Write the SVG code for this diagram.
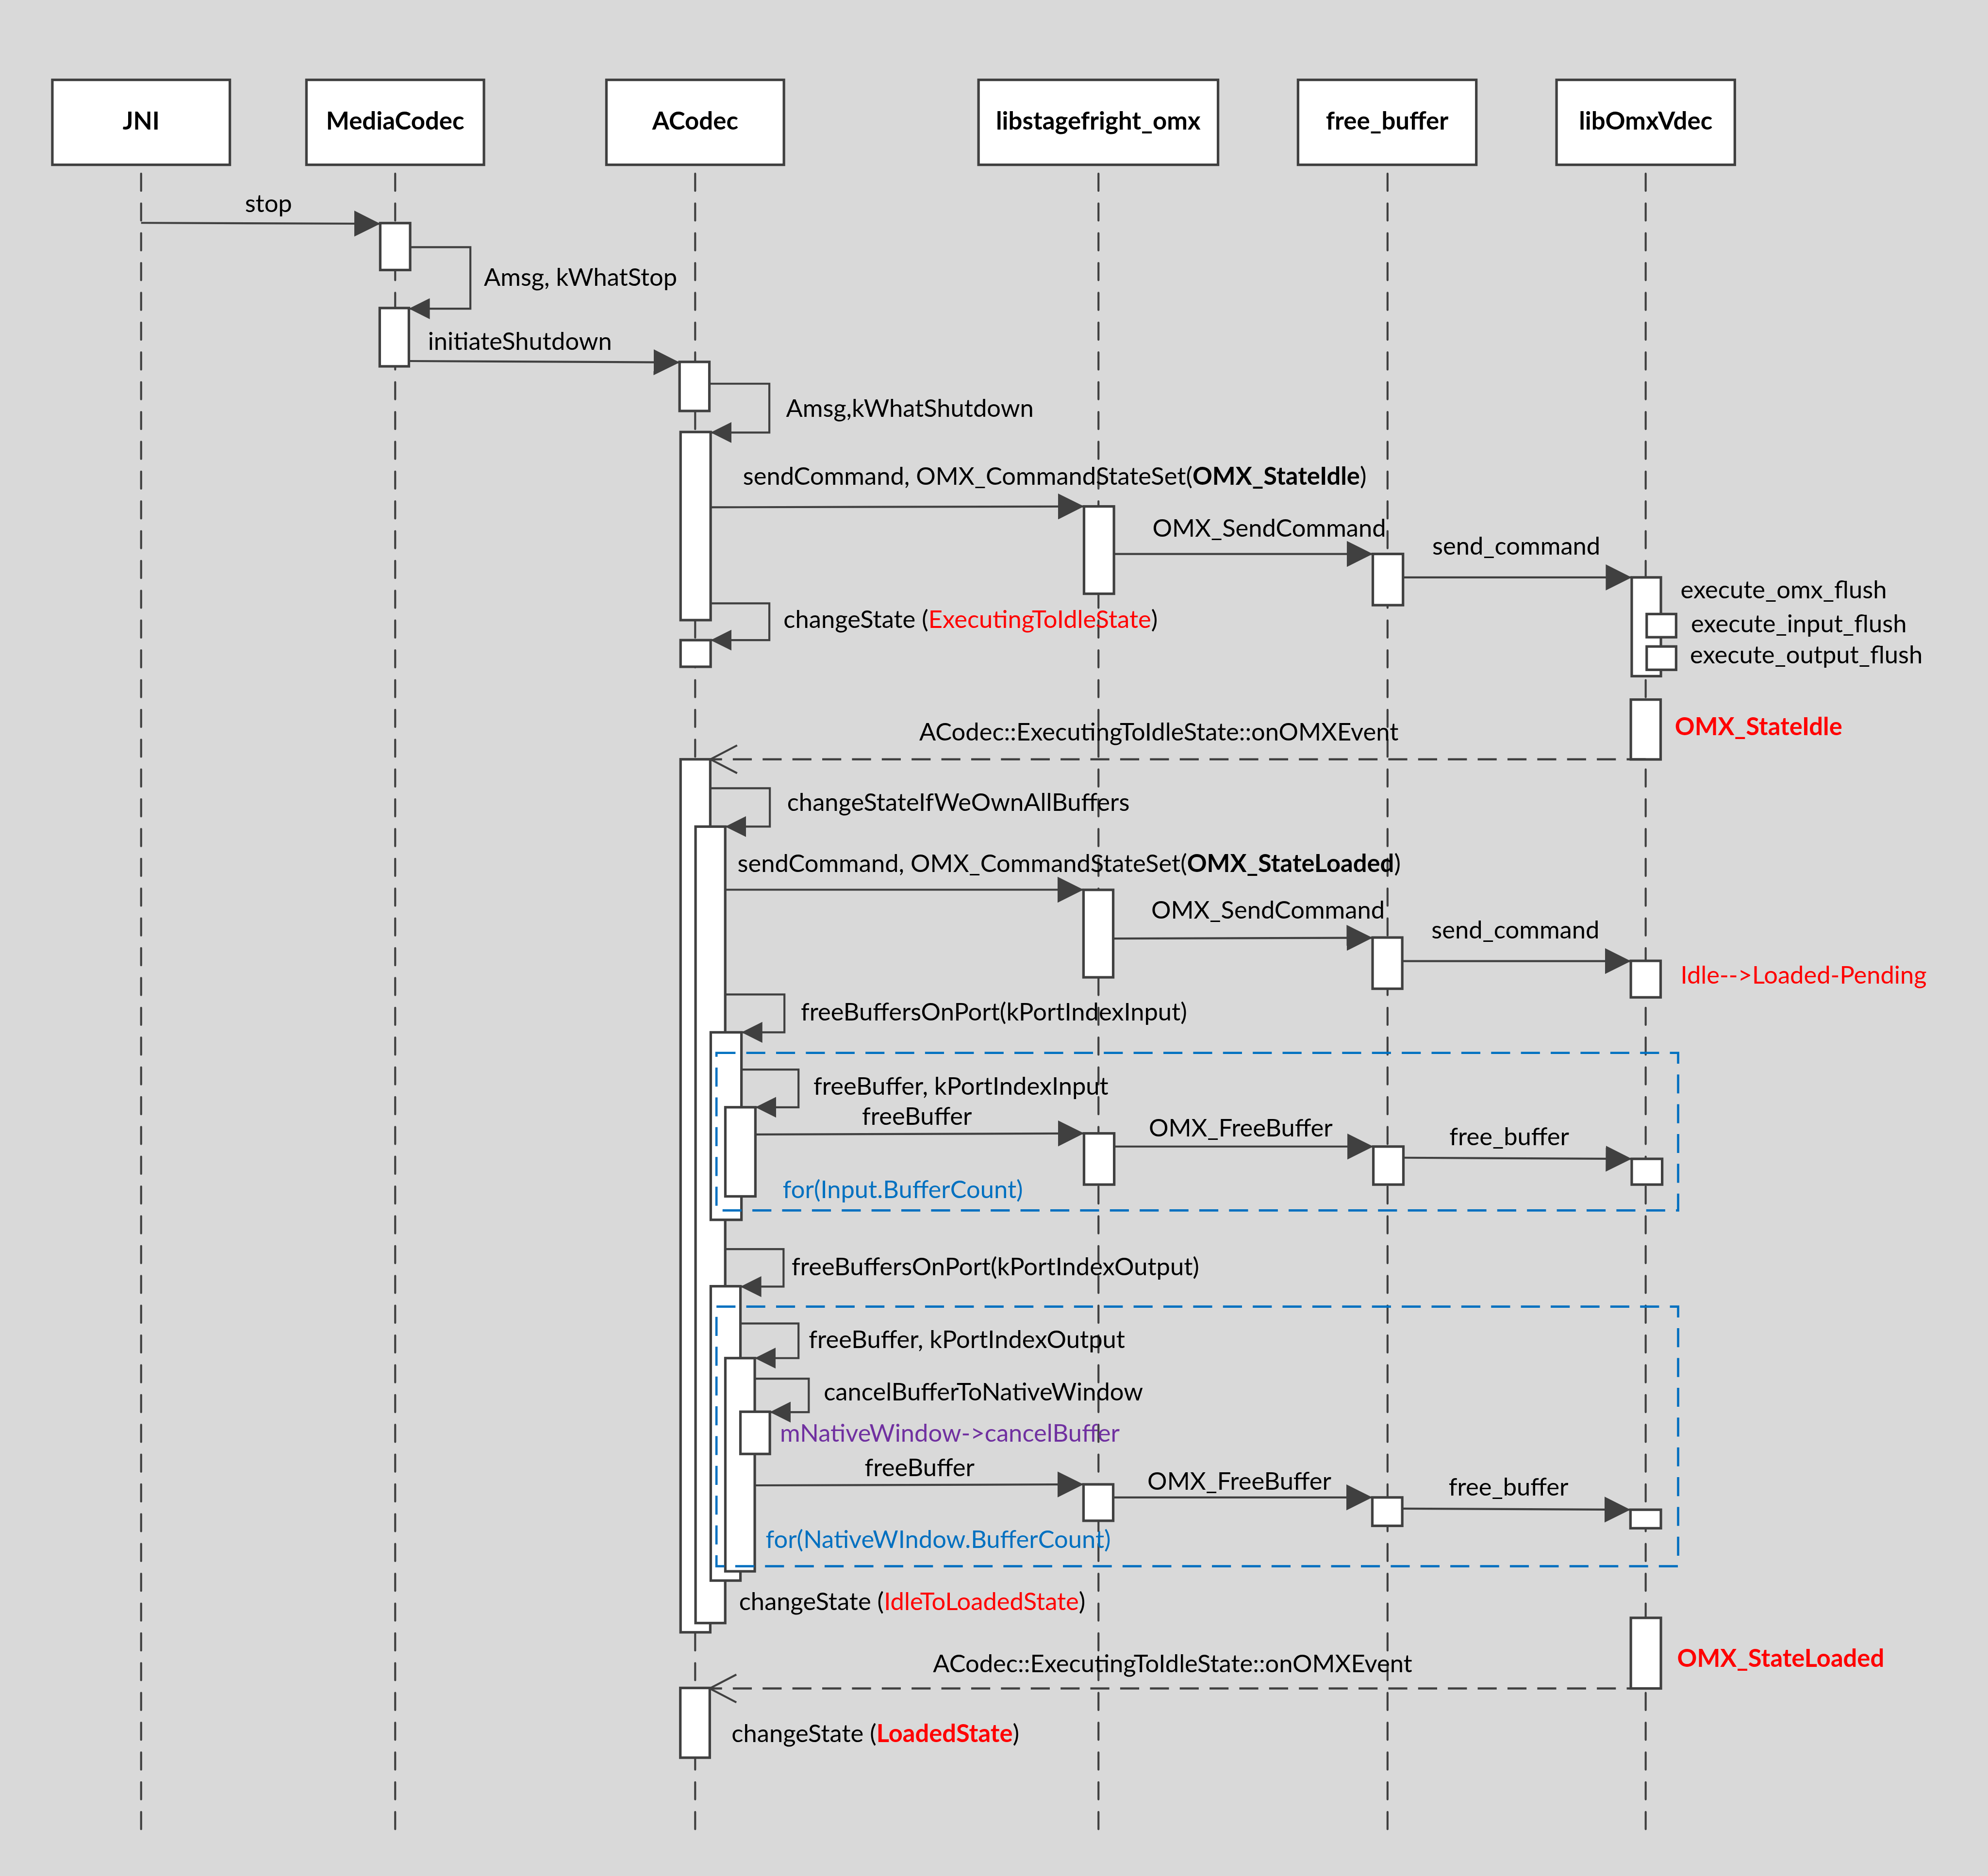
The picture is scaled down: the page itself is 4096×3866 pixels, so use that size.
<svg xmlns="http://www.w3.org/2000/svg" width="4096" height="3866" viewBox="0 0 4096 3866">
  <defs>
    <style>
      .hdr rect { fill: #ffffff; stroke: #404040; stroke-width: 2; }
      .hdr text { font-family: Lato, "Liberation Sans", sans-serif; font-weight: bold; font-size: 19.5px; text-anchor: middle; fill: #000; }
      .life { stroke: #404040; stroke-width: 1.6; stroke-dasharray: 13.5 10; stroke-linecap: round; fill: none; }
      .act { fill: #ffffff; stroke: #000000; stroke-width: 1.3; }
      .msg { fill: none; stroke: #404040; stroke-width: 1.6; marker-end: url(#arrow); }
      .self { fill: none; stroke: #404040; stroke-width: 1.6; marker-end: url(#arrow-s); }
      .ret { fill: none; stroke: #404040; stroke-width: 1.8; stroke-dasharray: 15 8.5; marker-end: url(#open); }
      .loop { fill: none; stroke: #0070C0; stroke-width: 1.8; stroke-dasharray: 15 8.5; }
      .lbl { font-family: Lato, "Liberation Sans", sans-serif; font-size: 19.4px; fill: #000; }
      .red { fill: #ff0000; }
      .b { font-weight: bold; }
      .blue { fill: #0070C0; }
      .purple { fill: #7030A0; }
    </style>
    <marker id="arrow" markerUnits="userSpaceOnUse" viewBox="0 0 20.5 20.5" markerWidth="20.5" markerHeight="20.5" refX="20.5" refY="10.25" orient="auto">
      <path d="M0,0 L20.5,10.25 L0,20.5 Z" fill="#404040"/>
    </marker>
    <marker id="arrow-s" markerUnits="userSpaceOnUse" viewBox="0 0 16.5 16.5" markerWidth="16.5" markerHeight="16.5" refX="16.5" refY="8.25" orient="auto">
      <path d="M0,0 L16.5,8.25 L0,16.5 Z" fill="#404040"/>
    </marker>
    <marker id="open" markerUnits="userSpaceOnUse" viewBox="-2 -2 25 26" markerWidth="25" markerHeight="26" refX="21" refY="11" orient="auto" overflow="visible">
      <path d="M0,0 L21,11 L0,22" fill="none" stroke="#404040" stroke-width="1.6"/>
    </marker>
  </defs>

  <rect x="0" y="0" width="4096" height="3866" fill="#d9d9d9"/>

  <g transform="scale(2.612245)">
    <!-- participants: header, lifeline, activation bars -->
    <g id="JNI" class="hdr">
      <rect x="41.3" y="63" width="140" height="67"/>
      <text x="111.3" y="102.2">JNI</text>
      <line class="life" x1="111.3" y1="137" x2="111.3" y2="1443"/>
    </g>
    <g id="MediaCodec" class="hdr">
      <rect x="241.7" y="63" width="140" height="67"/>
      <text x="311.7" y="102.2">MediaCodec</text>
      <line class="life" x1="311.7" y1="137" x2="311.7" y2="1443"/>
      <rect class="act" x="299.9" y="176" width="23.6" height="37"/>
      <rect class="act" x="299.5" y="243" width="23" height="46"/>
    </g>
    <g id="ACodec" class="hdr">
      <rect x="478.3" y="63" width="140" height="67"/>
      <text x="548.3" y="102.2">ACodec</text>
      <line class="life" x1="548.3" y1="137" x2="548.3" y2="1443"/>
      <rect class="act" x="536" y="285.5" width="23.5" height="38.7"/>
      <rect class="act" x="536.8" y="340.8" width="23.7" height="148.4"/>
      <rect class="act" x="536.8" y="505" width="23.7" height="21"/>
      <rect class="act" x="536.8" y="599" width="23.4" height="688.7"/>
      <rect class="act" x="548.6" y="652.1" width="23.4" height="628.3"/>
      <rect class="act" x="560.6" y="814.4" width="24.2" height="147.9"/>
      <rect class="act" x="572.1" y="873.5" width="23.7" height="70.3"/>
      <rect class="act" x="560.6" y="1014.7" width="23.4" height="232.2"/>
      <rect class="act" x="572.1" y="1071.4" width="23.2" height="168.2"/>
      <rect class="act" x="584" y="1113.7" width="23.2" height="33.3"/>
      <rect class="act" x="536.6" y="1331.6" width="23.2" height="55"/>
    </g>
    <g id="libstagefright_omx" class="hdr">
      <rect x="771.8" y="63" width="188.9" height="67"/>
      <text x="866.2" y="102.2">libstagefright_omx</text>
      <line class="life" x1="866.4" y1="137" x2="866.4" y2="1443"/>
      <rect class="act" x="855" y="399.5" width="23.6" height="68.9"/>
      <rect class="act" x="854.6" y="702" width="23.4" height="69"/>
      <rect class="act" x="855" y="894.1" width="23.8" height="40.4"/>
      <rect class="act" x="854.6" y="1171" width="23.4" height="28.7"/>
    </g>
    <g id="free_buffer" class="hdr">
      <rect x="1023.8" y="63" width="140.6" height="67"/>
      <text x="1094.1" y="102.2">free_buffer</text>
      <line class="life" x1="1094.4" y1="137" x2="1094.4" y2="1443"/>
      <rect class="act" x="1082.8" y="437" width="23.8" height="40.4"/>
      <rect class="act" x="1082.6" y="739.6" width="23.4" height="40.4"/>
      <rect class="act" x="1083.2" y="904.5" width="23.7" height="30"/>
      <rect class="act" x="1082.4" y="1181.3" width="23.6" height="22.4"/>
    </g>
    <g id="libOmxVdec" class="hdr">
      <rect x="1227.7" y="63" width="140.6" height="67"/>
      <text x="1298" y="102.2">libOmxVdec</text>
      <line class="life" x1="1298" y1="137" x2="1298" y2="1443"/>
      <rect class="act" x="1287" y="455.5" width="23" height="77.9"/>
      <rect class="act" x="1298.8" y="484.4" width="23.2" height="18.3"/>
      <rect class="act" x="1298.8" y="510" width="23.2" height="18.4"/>
      <rect class="act" x="1286.3" y="551.9" width="23.5" height="47.2"/>
      <rect class="act" x="1286.3" y="758" width="23.5" height="28.8"/>
      <rect class="act" x="1287" y="914.2" width="24" height="20.3"/>
      <rect class="act" x="1286" y="1191" width="24" height="14.6"/>
      <rect class="act" x="1286.3" y="1276.3" width="23.7" height="55.7"/>
    </g>

    <!-- messages -->
    <g id="connectors">
      <line class="msg" x1="111.3" y1="175.8" x2="299.9" y2="176.5"/>
      <path class="self" d="M323.6,195 H371 V243.5 H322.5"/>
      <line class="msg" x1="322.5" y1="284.8" x2="536" y2="285.9"/>
      <path class="self" d="M559.5,302.7 H606.8 V341.2 H560.5"/>
      <line class="msg" x1="560.5" y1="400.2" x2="855" y2="399.5"/>
      <line class="msg" x1="878.6" y1="437" x2="1082.8" y2="437"/>
      <line class="msg" x1="1106.6" y1="455.5" x2="1287" y2="455.5"/>
      <path class="self" d="M560.5,476 H606.8 V505 H560.5"/>
      <line class="ret" x1="1298" y1="599" x2="560.4" y2="599"/>
      <path class="self" d="M560.2,621.8 H607.2 V652.1 H572"/>
      <line class="msg" x1="572" y1="701.9" x2="854.6" y2="701.9"/>
      <line class="msg" x1="878" y1="740.4" x2="1082.6" y2="739.8"/>
      <line class="msg" x1="1106" y1="758.2" x2="1286.3" y2="758.2"/>
      <path class="self" d="M572,784.5 H618.7 V814.4 H584.8"/>
      <path class="self" d="M584.8,843.8 H629.8 V873.5 H595.8"/>
      <line class="msg" x1="595.8" y1="895" x2="855" y2="894.1"/>
      <line class="msg" x1="878.8" y1="904.5" x2="1083.2" y2="904.5"/>
      <line class="msg" x1="1106.9" y1="913.3" x2="1287" y2="914.2"/>
      <path class="self" d="M572,985.4 H618 V1015 H584"/>
      <path class="self" d="M584,1044.1 H629.8 V1071.4 H595.3"/>
      <path class="self" d="M595.3,1087.6 H637.9 V1114 H607.2"/>
      <line class="msg" x1="595.3" y1="1171.8" x2="854.6" y2="1171"/>
      <line class="msg" x1="878" y1="1181.3" x2="1082.4" y2="1181.3"/>
      <line class="msg" x1="1106" y1="1190.1" x2="1286" y2="1191"/>
      <line class="ret" x1="1298" y1="1332" x2="559.8" y2="1332"/>
    </g>

    <!-- loop frames -->
    <g id="loop-input">
      <rect class="loop" x="565.1" y="830.6" width="758.5" height="124.3"/>
      <text class="lbl blue" x="617.4" y="945">for(Input.BufferCount)</text>
    </g>
    <g id="loop-output">
      <rect class="loop" x="565.1" y="1030.8" width="758.5" height="204.8"/>
      <text class="lbl blue" x="603.9" y="1221.2">for(NativeWIndow.BufferCount)</text>
    </g>

    <!-- message labels -->
    <g id="labels" class="lbl">
      <text class="lbl" x="193.2" y="167.4">stop</text>
      <text class="lbl" x="381.7" y="225.3">Amsg, kWhatStop</text>
      <text class="lbl" x="337.5" y="276">initiateShutdown</text>
      <text class="lbl" x="620" y="329">Amsg,kWhatShutdown</text>
      <text class="lbl" x="586" y="382.6">sendCommand, OMX_CommandStateSet(<tspan class="b">OMX_StateIdle</tspan>)</text>
      <text class="lbl" x="909" y="423.4">OMX_SendCommand</text>
      <text class="lbl" x="1129.7" y="437.6">send_command</text>
      <text class="lbl" x="1325.5" y="471.9">execute_omx_flush</text>
      <text class="lbl" x="1333.7" y="498.8">execute_input_flush</text>
      <text class="lbl" x="1333" y="523.2">execute_output_flush</text>
      <text class="lbl" x="618" y="495.2">changeState (<tspan class="red">ExecutingToIdleState</tspan>)</text>
      <text class="lbl red b" x="1321" y="579.8">OMX_StateIdle</text>
      <text class="lbl" x="725" y="584">ACodec::ExecutingToIdleState::onOMXEvent</text>
      <text class="lbl" x="620.8" y="639.8">changeStateIfWeOwnAllBuffers</text>
      <text class="lbl" x="581.7" y="688">sendCommand, OMX_CommandStateSet(<tspan class="b">OMX_StateLoaded</tspan>)</text>
      <text class="lbl" x="908" y="724.7">OMX_SendCommand</text>
      <text class="lbl" x="1129" y="740.5">send_command</text>
      <text class="lbl red" x="1325.5" y="775.8">Idle--&gt;Loaded-Pending</text>
      <text class="lbl" x="631.6" y="805">freeBuffersOnPort(kPortIndexInput)</text>
      <text class="lbl" x="641.6" y="863.6">freeBuffer, kPortIndexInput</text>
      <text class="lbl" x="679.9" y="887.5">freeBuffer</text>
      <text class="lbl" x="906.1" y="896.7">OMX_FreeBuffer</text>
      <text class="lbl" x="1143.2" y="903.3">free_buffer</text>
      <text class="lbl" x="624.4" y="1006">freeBuffersOnPort(kPortIndexOutput)</text>
      <text class="lbl" x="637.9" y="1063.3">freeBuffer, kPortIndexOutput</text>
      <text class="lbl" x="649.7" y="1104.7">cancelBufferToNativeWindow</text>
      <text class="lbl purple" x="615.2" y="1137.4">mNativeWindow-&gt;cancelBuffer</text>
      <text class="lbl" x="682" y="1164.6">freeBuffer</text>
      <text class="lbl" x="905" y="1175.4">OMX_FreeBuffer</text>
      <text class="lbl" x="1142.6" y="1179.7">free_buffer</text>
      <text class="lbl" x="582.9" y="1270.2">changeState (<tspan class="red">IdleToLoadedState</tspan>)</text>
      <text class="lbl red b" x="1322.8" y="1314.8">OMX_StateLoaded</text>
      <text class="lbl" x="735.9" y="1319.1">ACodec::ExecutingToIdleState::onOMXEvent</text>
      <text class="lbl" x="577" y="1374.3">changeState (<tspan class="red b">LoadedState</tspan>)</text>
    </g>
  </g>
</svg>
